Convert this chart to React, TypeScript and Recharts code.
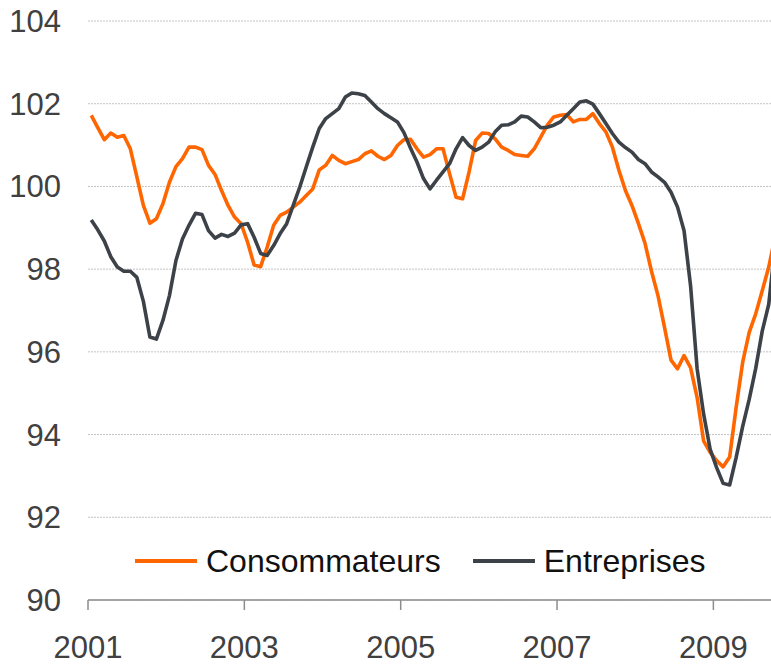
import React from "react";
import { LineChart, Line, XAxis, YAxis, CartesianGrid, Legend } from "recharts";

const startYear = 2001;
const yearTicks = [2001, 2003, 2005, 2007, 2009];
const yTicks = [90, 92, 94, 96, 98, 100, 102, 104];

// Monthly values, Jan 2001 onward
const consommateurs = [
  101.72, 101.42, 101.13, 101.29, 101.19, 101.23, 100.91, 100.23, 99.54, 99.11, 99.22, 99.58,
  100.1, 100.48, 100.67, 100.95, 100.95, 100.89, 100.51, 100.29, 99.9, 99.54, 99.26, 99.1,
  98.65, 98.1, 98.06, 98.53, 99.06, 99.3, 99.38, 99.5, 99.62, 99.78, 99.94, 100.4,
  100.51, 100.75, 100.63, 100.55, 100.6, 100.65, 100.79, 100.86, 100.73, 100.65, 100.75, 100.99,
  101.13, 101.14, 100.91, 100.71, 100.77, 100.91, 100.91, 100.31, 99.74, 99.7, 100.35, 101.11,
  101.29, 101.28, 101.15, 100.95, 100.87, 100.77, 100.75, 100.73, 100.91, 101.19, 101.48, 101.68,
  101.72, 101.74, 101.56, 101.62, 101.62, 101.76, 101.52, 101.32, 100.95, 100.39, 99.9, 99.54,
  99.1, 98.63, 97.95, 97.36, 96.59, 95.8, 95.59, 95.91, 95.62, 94.9, 93.85, 93.57,
  93.37, 93.22, 93.46, 94.66, 95.75, 96.47, 96.92, 97.48, 98.05, 98.8,
];

const entreprises = [
  99.19, 98.95, 98.68, 98.3, 98.05, 97.95, 97.95, 97.8, 97.22, 96.36, 96.31, 96.76,
  97.36, 98.21, 98.73, 99.06, 99.35, 99.32, 98.93, 98.75, 98.84, 98.79, 98.87, 99.07,
  99.1, 98.77, 98.38, 98.33, 98.57, 98.86, 99.1, 99.54, 99.98, 100.47, 100.95, 101.4,
  101.64, 101.76, 101.88, 102.16, 102.26, 102.24, 102.2, 102.04, 101.88, 101.76, 101.66, 101.56,
  101.3, 100.93, 100.59, 100.19, 99.94, 100.15, 100.35, 100.55, 100.91, 101.18, 100.99, 100.87,
  100.95, 101.07, 101.32, 101.48, 101.49, 101.56, 101.7, 101.68, 101.56, 101.42, 101.43, 101.48,
  101.56, 101.72, 101.88, 102.04, 102.07, 101.99, 101.76, 101.52, 101.28, 101.07, 100.94, 100.83,
  100.65, 100.55, 100.35, 100.23, 100.1, 99.86, 99.5, 98.93, 97.6, 95.6, 94.5, 93.65,
  93.2, 92.82, 92.78, 93.45, 94.2, 94.85, 95.6, 96.5, 97.15, 98.6,
];

const rows = consommateurs.map((c, i) => ({
  t: startYear + (i + 0.5) / 12,
  consommateurs: c,
  entreprises: entreprises[i],
}));

const FONT = '"Liberation Sans", Arial, Helvetica, sans-serif';

const renderLegend = (props: any) => {
  const payload = props.payload || [];
  return (
    <div style={{ display: "flex", alignItems: "center", fontFamily: FONT, fontSize: 32, lineHeight: "40px", color: "#111" }}>
      {payload.map((p: any, idx: number) => (
        <div key={idx} style={{ display: "flex", alignItems: "center", marginRight: 32 }}>
          <svg width={62} height={6} style={{ display: "block" }}>
            <line x1={0} y1={3} x2={62} y2={3} stroke={p.color} strokeWidth={4} />
          </svg>
          <span style={{ marginLeft: 9, whiteSpace: "nowrap" }}>{p.value}</span>
        </div>
      ))}
    </div>
  );
};

export default function App() {
  return (
    <div style={{ position: "absolute", left: 0, top: 0, background: "#fff" }}>
      <LineChart width={772} height={665} data={rows} margin={{ top: 21, right: 0, bottom: 0, left: 0 }}>
        <CartesianGrid horizontal vertical={false} stroke="#c4c4c4" strokeDasharray="2 1" />
        <XAxis
          type="number"
          dataKey="t"
          domain={[2001, 2009.75]}
          ticks={yearTicks}
          allowDataOverflow
          height={65}
          stroke="#8c8c8c"
          axisLine={{ stroke: "#8c8c8c", strokeWidth: 1.5 }}
          tickLine={{ stroke: "#8c8c8c", strokeWidth: 1.5 }}
          tickSize={10}
          tickMargin={26}
          tickFormatter={(v: number) => String(Math.round(v))}
          tick={{ fill: "#404040", fontSize: 31, fontFamily: FONT }}
        />
        <YAxis
          domain={[90, 104]}
          ticks={yTicks}
          width={88}
          axisLine={false}
          tickLine={false}
          tickSize={0}
          tickMargin={27}
          tick={{ fill: "#404040", fontSize: 31, fontFamily: FONT }}
        />
        <Legend
          verticalAlign="middle"
          align="center"
          layout="horizontal"
          wrapperStyle={{ left: 135, top: 541, width: "auto", height: "auto" }}
          content={renderLegend}
        />
        <Line
          type="linear"
          dataKey="consommateurs"
          name="Consommateurs"
          stroke="#ff6600"
          strokeWidth={3.6}
          dot={false}
          activeDot={false}
          strokeLinejoin="round"
          isAnimationActive={false}
        />
        <Line
          type="linear"
          dataKey="entreprises"
          name="Entreprises"
          stroke="#3d4148"
          strokeWidth={3.6}
          dot={false}
          activeDot={false}
          strokeLinejoin="round"
          isAnimationActive={false}
        />
      </LineChart>
    </div>
  );
}
